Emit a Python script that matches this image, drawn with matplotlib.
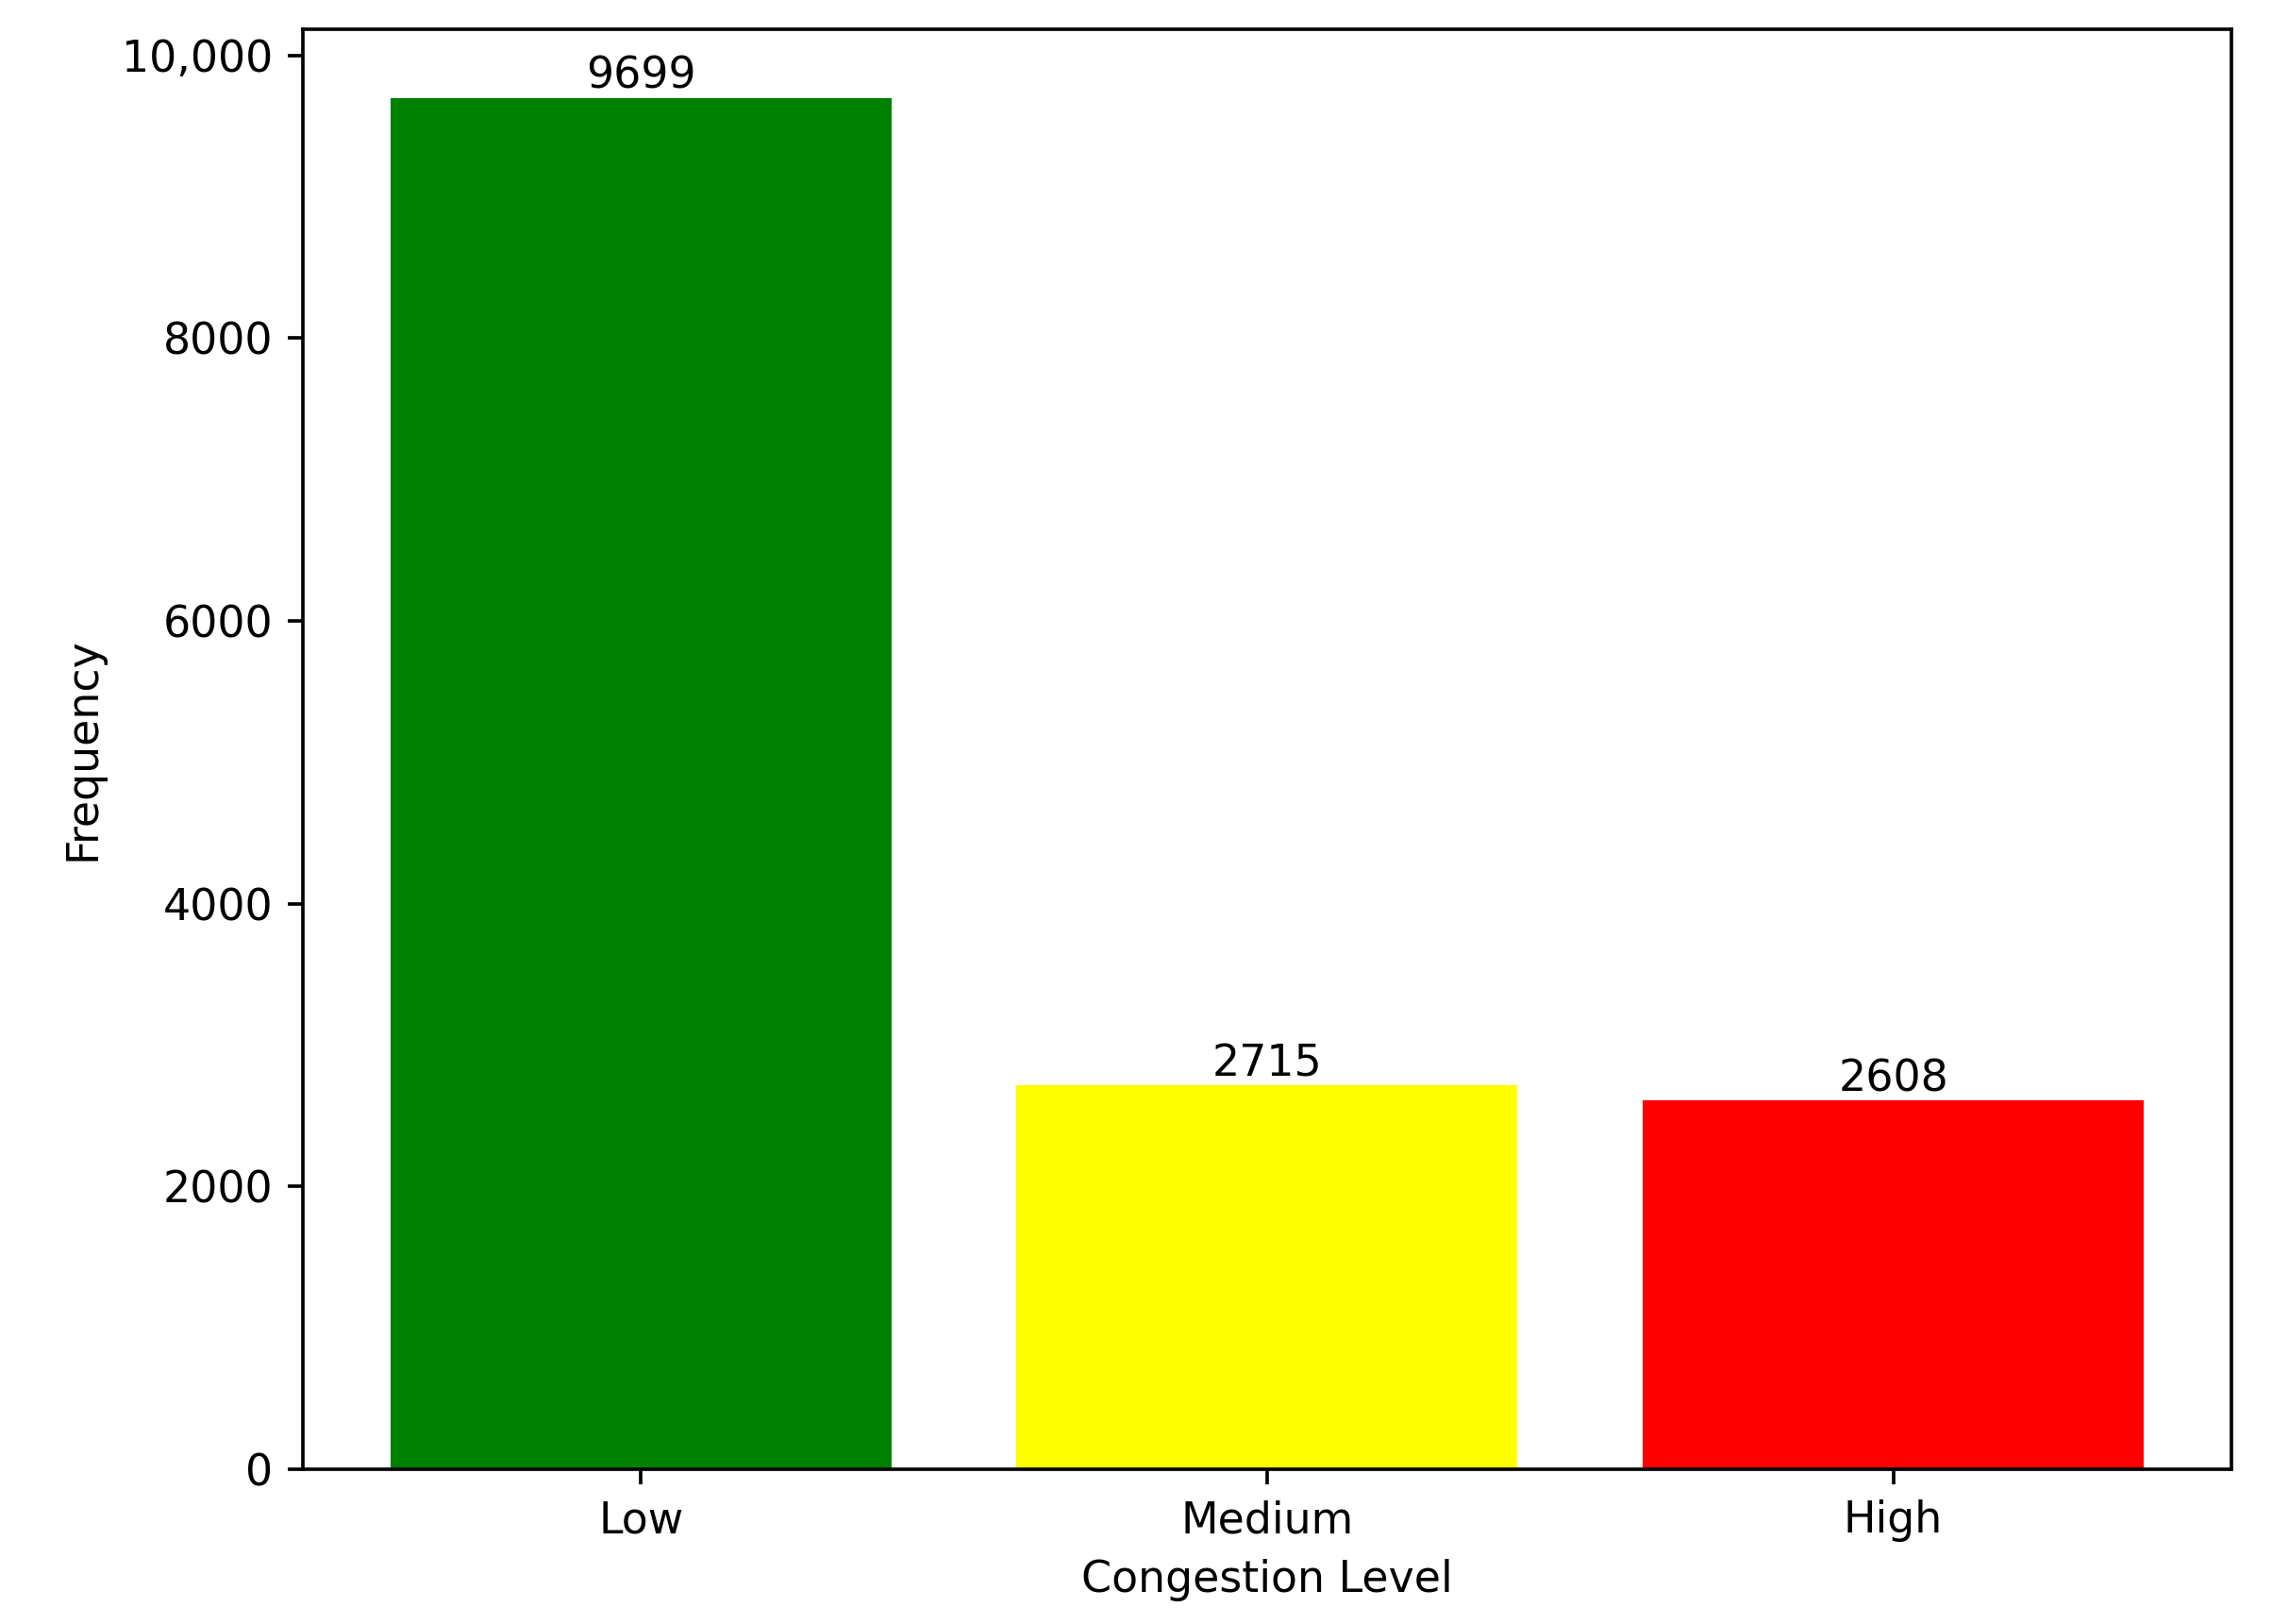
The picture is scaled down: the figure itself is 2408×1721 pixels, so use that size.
import matplotlib
matplotlib.use("Agg")
import matplotlib.pyplot as plt

# data
levels = ["Low", "Medium", "High"]
counts = [9699, 2715, 2608]
bar_colors = ["green", "yellow", "red"]
ytick_vals = [0, 2000, 4000, 6000, 8000, 10000]
ytick_text = ["0", "2000", "4000", "6000", "8000", "10,000"]

DPI = 330
fig = plt.figure(figsize=(2408 / DPI, 1721 / DPI), dpi=DPI)
ax = fig.add_axes([0.1333, 0.0953, 0.8488, 0.8867])

bars = ax.bar(levels, counts, color=bar_colors, width=0.8)
ax.bar_label(bars, labels=[str(c) for c in counts], padding=0)

ax.set_yticks(ytick_vals)
ax.set_yticklabels(ytick_text)
ax.set_xlabel("Congestion Level")
ax.set_ylabel("Frequency")

fig.savefig("out.png", dpi=DPI)
